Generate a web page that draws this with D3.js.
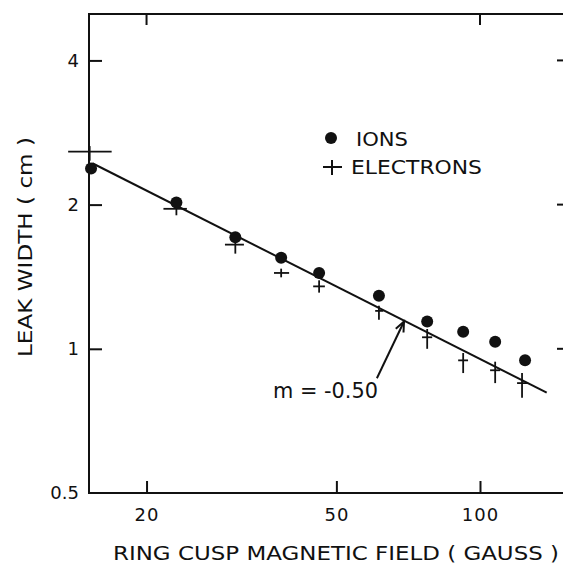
<!DOCTYPE html>
<html>
<head>
<meta charset="utf-8">
<script src="https://cdn.jsdelivr.net/npm/d3@7"></script>
<style>
  body { margin: 0; background: #fff; }
  text { font-family: "DejaVu Sans", sans-serif; fill: #111; }
</style>
</head>
<body>
<svg id="chart"></svg>
<script>
// ring cusp field (gauss)
var field = [15.3, 23.1, 30.7, 38.3, 46.0, 61.4, 77.5, 92.2, 107.6, 124.3];
// ion leak width (cm)
var ionWidth = [2.38, 2.02, 1.71, 1.55, 1.44, 1.29, 1.14, 1.085, 1.034, 0.946];
// electron leak width (cm) and the extent of each cross
var elecField = [15.2, 23.1, 30.7, 38.3, 46.0, 61.4, 77.5, 92.2, 107.6, 122.5];
var elecWidth = [2.58, 1.96, 1.65, 1.44, 1.35, 1.20, 1.057, 0.946, 0.902, 0.848];
var elecHi = [2.65, 2.01, 1.67, 1.47, 1.39, 1.23, 1.10, 0.98, 0.94, 0.89];
var elecLo = [2.47, 1.90, 1.58, 1.41, 1.31, 1.15, 1.00, 0.89, 0.848, 0.79];
var elecXLo = [13.7, 21.7, 29.2, 37.0, 44.7, 60.3, 75.6, 90.0, 105.0, 119.6];
var elecXHi = [16.9, 24.3, 32.0, 39.8, 47.3, 62.7, 79.4, 94.4, 110.2, 126.2];
// fitted line, slope -0.50
var fitLine = [[15.4, 2.44], [138, 0.81]];
var xTicks = [20, 50, 100];
var yTicks = [0.5, 1, 2, 4];

var width = 563, height = 566;
var svg = d3.select("#chart").attr("width", width).attr("height", height);

var x = d3.scaleLog().domain([15.15, 150]).range([89, 564]);
var y = d3.scaleLog().domain([0.5, 5]).range([493, 14]);

// axes (ticks point inward)
var xAxis = svg.append("g")
  .attr("transform", "translate(0,493)")
  .call(d3.axisBottom(x).tickValues(xTicks).tickFormat(d3.format("d"))
    .tickSize(-12).tickSizeOuter(0).tickPadding(15));
var yAxis = svg.append("g")
  .attr("transform", "translate(89,0)")
  .call(d3.axisLeft(y).tickValues(yTicks).tickFormat(function(d) { return d; })
    .tickSize(-13).tickSizeOuter(0).tickPadding(10));
[xAxis, yAxis].forEach(function(g) {
  g.select(".domain").remove();
  g.selectAll("line").attr("stroke", "#111").attr("stroke-width", 2);
  g.selectAll("text").style("font-size", "18px").attr("fill", "#111")
    .style("font-family", "'DejaVu Sans', sans-serif");
});
xAxis.selectAll("text").attr("letter-spacing", 1);
yAxis.selectAll(".tick").filter(function(d) { return d === 0.5; }).select("line").remove();

// frame
svg.append("path")
  .attr("d", "M563,14H89V493H563")
  .attr("fill", "none").attr("stroke", "#111").attr("stroke-width", 2);

// top and right ticks
svg.selectAll(".ttick").data([20, 100]).enter().append("line")
  .attr("x1", function(d) { return x(d); }).attr("x2", function(d) { return x(d); })
  .attr("y1", 14).attr("y2", 25)
  .attr("stroke", "#111").attr("stroke-width", 2);
svg.selectAll(".rtick").data([1, 2, 4]).enter().append("line")
  .attr("x1", 557).attr("x2", 563)
  .attr("y1", function(d) { return y(d); }).attr("y2", function(d) { return y(d); })
  .attr("stroke", "#111").attr("stroke-width", 2);

// fit line
svg.append("path")
  .datum(fitLine)
  .attr("d", d3.line().x(function(d) { return x(d[0]); }).y(function(d) { return y(d[1]); }))
  .attr("fill", "none").attr("stroke", "#111").attr("stroke-width", 2);

// electrons
var elec = svg.append("g").attr("stroke", "#111").attr("stroke-width", 1.8);
elecField.forEach(function(f, i) {
  elec.append("line")
    .attr("x1", x(f)).attr("x2", x(f))
    .attr("y1", y(elecHi[i])).attr("y2", y(elecLo[i]));
  elec.append("line")
    .attr("x1", x(elecXLo[i])).attr("x2", x(elecXHi[i]))
    .attr("y1", y(elecWidth[i])).attr("y2", y(elecWidth[i]));
});

// ions
svg.selectAll(".ion").data(field).enter().append("circle")
  .attr("cx", function(d) { return x(d); })
  .attr("cy", function(d, i) { return y(ionWidth[i]); })
  .attr("r", 6).attr("fill", "#111");

// legend
svg.append("circle").attr("cx", 331).attr("cy", 138).attr("r", 6).attr("fill", "#111");
svg.append("text").attr("x", 356).attr("y", 146).style("font-size", "19px")
  .attr("textLength", 52).attr("lengthAdjust", "spacingAndGlyphs").text("IONS");
svg.append("path").attr("d", "M323,167H342M332,160V175")
  .attr("stroke", "#111").attr("stroke-width", 2);
svg.append("text").attr("x", 351).attr("y", 174).style("font-size", "19px")
  .attr("textLength", 131).attr("lengthAdjust", "spacingAndGlyphs").text("ELECTRONS");

// slope annotation
var hx = x(69.3), hy = y(1.14), tx = x(60.8), ty = y(0.868);
svg.append("line").attr("x1", tx).attr("y1", ty).attr("x2", hx).attr("y2", hy)
  .attr("stroke", "#111").attr("stroke-width", 2);
var ang = Math.atan2(hy - ty, hx - tx);
svg.append("path")
  .attr("d", "M" + (hx - 11 * Math.cos(ang - 0.4)) + "," + (hy - 11 * Math.sin(ang - 0.4)) +
    "L" + hx + "," + hy +
    "L" + (hx - 11 * Math.cos(ang + 0.4)) + "," + (hy - 11 * Math.sin(ang + 0.4)))
  .attr("fill", "none").attr("stroke", "#111").attr("stroke-width", 2);
svg.append("text").attr("x", 273).attr("y", 398).style("font-size", "22px")
  .attr("textLength", 105).attr("lengthAdjust", "spacingAndGlyphs").text("m = -0.50");

// axis titles
svg.append("text").attr("x", 113).attr("y", 560).style("font-size", "20px")
  .attr("textLength", 446).attr("lengthAdjust", "spacingAndGlyphs")
  .text("RING CUSP MAGNETIC FIELD ( GAUSS )");
svg.append("text")
  .attr("transform", "translate(32,357) rotate(-90)")
  .style("font-size", "19px")
  .attr("textLength", 220).attr("lengthAdjust", "spacingAndGlyphs")
  .text("LEAK WIDTH ( cm )");
</script>
</body>
</html>
